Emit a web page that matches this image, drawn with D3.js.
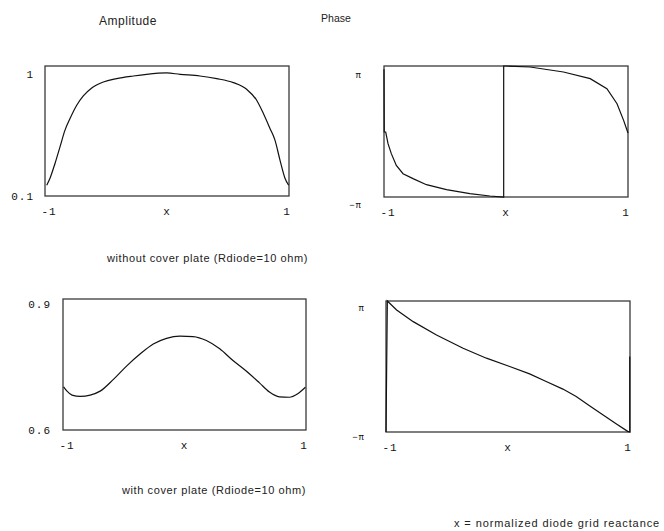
<!DOCTYPE html>
<html>
<head>
<meta charset="utf-8">
<script src="https://cdn.jsdelivr.net/npm/d3@7/dist/d3.min.js"></script>
<style>
  body { margin: 0; background: #fff; }
  svg { display: block; }
  .tick { font-family: "Liberation Mono", monospace; font-size: 11px; letter-spacing: 1px; fill: #111; }
  .cap { font-family: "Liberation Sans", Arial, sans-serif; fill: #222; }
</style>
</head>
<body>
<div id="chart"></div>
<script>
// x = normalized diode grid reactance, -1 .. 1
var ampTopX   = [-0.986,-0.959,-0.918,-0.877,-0.836,-0.795,-0.740,-0.686,-0.617,-0.522,-0.413,-0.276,-0.167,-0.003,0.107,0.270,0.407,0.544,0.653,0.735,0.790,0.844,0.885,0.926,0.967,0.997]
var ampTopY   = [0.121,0.137,0.178,0.239,0.321,0.394,0.499,0.589,0.678,0.754,0.800,0.838,0.863,0.884,0.863,0.838,0.800,0.745,0.662,0.545,0.431,0.331,0.269,0.189,0.137,0.121]

// phase in units of pi
var phTopX    = [-1.0,-0.998,-0.986,-0.967,-0.940,-0.899,-0.844,-0.762,-0.652,-0.488,-0.296,-0.132,-0.019,-0.019,0.005,0.197,0.471,0.690,0.827,0.910,0.964,1.0]
var phTopY    = [0.95,-0.008,-0.008,-0.186,-0.338,-0.517,-0.644,-0.720,-0.812,-0.888,-0.949,-0.985,-1.0,1.0,1.0,0.985,0.908,0.807,0.654,0.425,0.170,-0.023]

var ampBotX   = [-0.995,-0.967,-0.926,-0.858,-0.776,-0.694,-0.585,-0.475,-0.366,-0.257,-0.148,-0.038,0.071,0.180,0.290,0.399,0.508,0.617,0.699,0.781,0.863,0.932,0.995]
var ampBotY   = [0.699,0.689,0.680,0.677,0.680,0.689,0.716,0.747,0.774,0.797,0.810,0.815,0.814,0.805,0.786,0.759,0.735,0.708,0.687,0.676,0.675,0.683,0.698]

var phBotX    = [-1.0,-0.989,-0.913,-0.777,-0.586,-0.368,-0.177,0.014,0.177,0.313,0.450,0.559,0.668,0.777,0.886,0.981,0.998,0.998]
var phBotY    = [-1.0,1.0,0.863,0.685,0.482,0.279,0.127,0.0,-0.112,-0.228,-0.345,-0.457,-0.599,-0.736,-0.873,-0.990,-1.0,0.152]

var colTitles = ['Amplitude', 'Phase']
var rowCaptions = ['without cover plate (Rdiode=10 ohm)', 'with cover plate (Rdiode=10 ohm)']
var xTickLabels = ['-1', 'x', '1']
var yTickTop = ['1', '0.1', '\u03c0', '\u2212\u03c0', '0.9', '0.6', '\u03c0', '\u2212\u03c0']

var W = 664, H = 531
var svg = d3.select('#chart').append('svg').attr('width', W).attr('height', H)

var panels = [
  {x0: 45, x1: 289, y0: 66, y1: 196, xs: ampTopX, ys: ampTopY, ydom: [0.1, 1], log: true, labs: [yTickTop[0], yTickTop[1]], labR: 34, labDy: [12, 4], curve: d3.curveMonotoneX},
  {x0: 384, x1: 628, y0: 66, y1: 197, xs: phTopX, ys: phTopY, ydom: [-1, 1], labs: [yTickTop[2], yTickTop[3]], labR: 362, labDy: [12, 11], curve: d3.curveLinear, pi: true},
  {x0: 63, x1: 306, y0: 299, y1: 430, xs: ampBotX, ys: ampBotY, ydom: [0.6, 0.9], labs: [yTickTop[4], yTickTop[5]], labR: 51, labDy: [9, 4], curve: d3.curveMonotoneX},
  {x0: 386, x1: 630, y0: 301, y1: 432, xs: phBotX, ys: phBotY, ydom: [-1, 1], labs: [yTickTop[6], yTickTop[7]], labR: 365, labDy: [10, 8], curve: d3.curveLinear, pi: true}
]

panels.forEach(function (p) {
  var x = d3.scaleLinear().domain([-1, 1]).range([p.x0, p.x1])
  var y = (p.log ? d3.scaleLog() : d3.scaleLinear()).domain(p.ydom).range([p.y1, p.y0])
  var g = svg.append('g')

  g.append('rect')
    .attr('x', p.x0).attr('y', p.y0)
    .attr('width', p.x1 - p.x0).attr('height', p.y1 - p.y0)
    .attr('fill', 'none').attr('stroke', '#3a3a3a').attr('stroke-width', 1.3)

  var pts = p.xs.map(function (d, i) { return [d, p.ys[i]] })
  var line = d3.line()
    .x(function (d) { return x(d[0]) })
    .y(function (d) { return y(d[1]) })
    .curve(p.curve)
  g.append('path').datum(pts)
    .attr('d', line)
    .attr('fill', 'none').attr('stroke', '#111').attr('stroke-width', 1.2)

  // y labels at the ends of the domain
  g.append('text').attr('class', 'tick')
    .attr('x', p.labR).attr('y', y(p.ydom[1]) + p.labDy[0])
    .attr('text-anchor', 'end')
    .style('font-size', p.pi ? '9px' : null)
    .text(p.labs[0])
  g.append('text').attr('class', 'tick')
    .attr('x', p.labR).attr('y', y(p.ydom[0]) + p.labDy[1])
    .attr('text-anchor', 'end')
    .style('font-size', p.pi ? '9px' : null)
    .text(p.labs[1])

  // x labels
  var xpos = [x(-1) + 4, x(0), x(1) - 2]
  xTickLabels.forEach(function (t, i) {
    g.append('text').attr('class', 'tick')
      .attr('x', xpos[i]).attr('y', p.y1 + 19)
      .attr('text-anchor', 'middle')
      .text(t)
  })
})

// column titles
svg.append('text').attr('class', 'cap').attr('x', 128).attr('y', 25)
  .attr('text-anchor', 'middle').style('font-size', '12px').style('letter-spacing', '0.5px').text(colTitles[0])
svg.append('text').attr('class', 'cap').attr('x', 336).attr('y', 22)
  .attr('text-anchor', 'middle').style('font-size', '10.5px').text(colTitles[1])

// row captions
svg.append('text').attr('class', 'cap').attr('x', 107).attr('y', 262)
  .style('font-size', '11px').style('letter-spacing', '0.6px').text(rowCaptions[0])
svg.append('text').attr('class', 'cap').attr('x', 122).attr('y', 494)
  .style('font-size', '11px').style('letter-spacing', '0.6px').text(rowCaptions[1])

svg.append('text').attr('class', 'cap').attr('x', 454).attr('y', 527)
  .style('font-size', '11px').style('letter-spacing', '0.9px').text('x = normalized diode grid reactance')
</script>
</body>
</html>
